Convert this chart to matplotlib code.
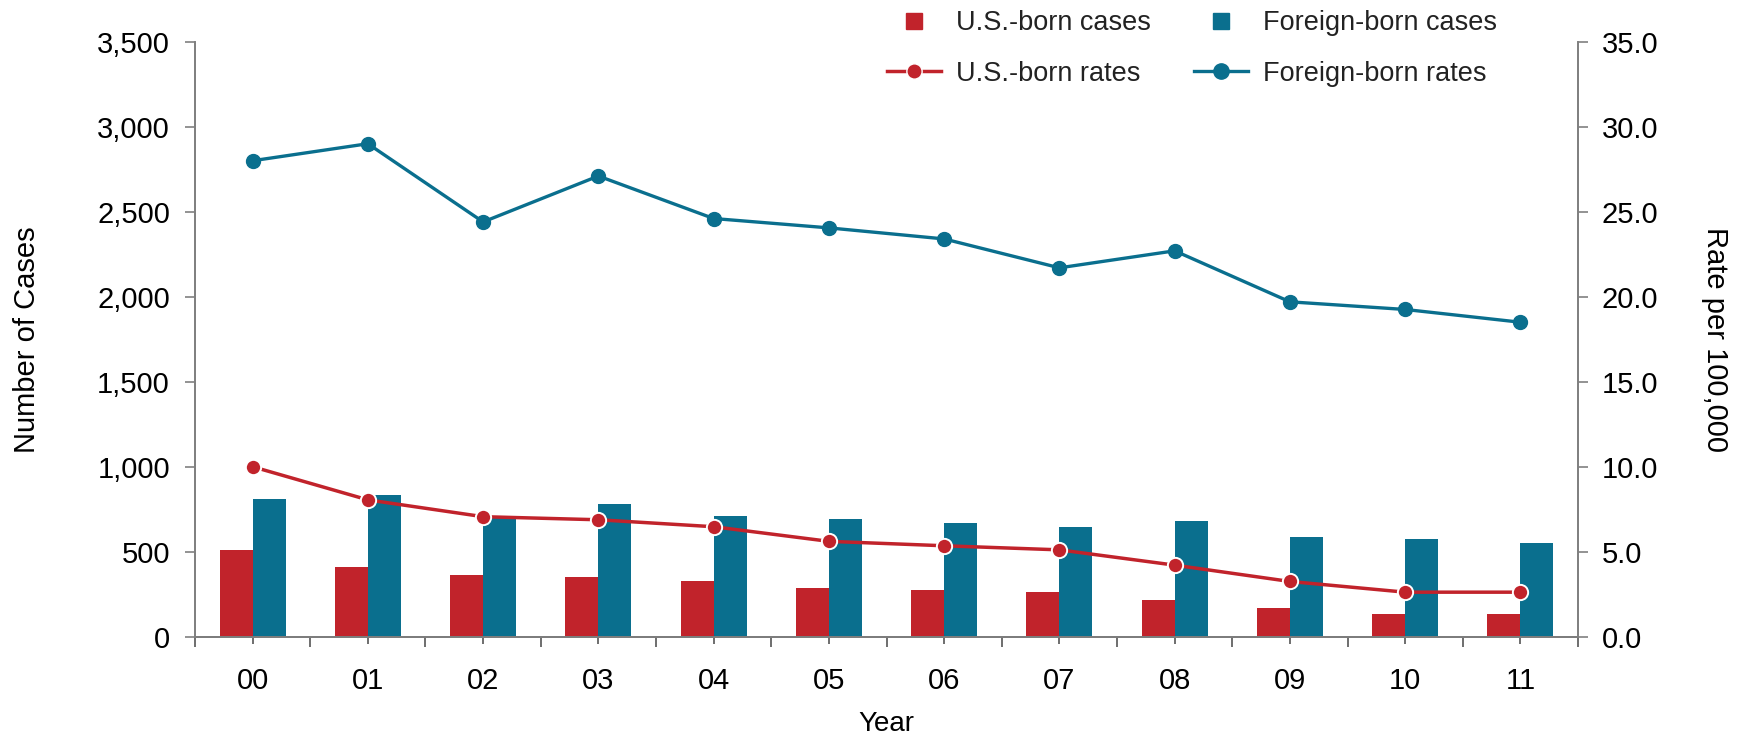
import matplotlib.pyplot as plt
from matplotlib.lines import Line2D
from matplotlib.ticker import FuncFormatter, FixedLocator
import numpy as np

# values
years = ['00', '01', '02', '03', '04', '05', '06', '07', '08', '09', '10', '11']
us_cases = [508, 410, 362, 350, 330, 287, 273, 263, 214, 167, 132, 132]
fb_cases = [809, 834, 700, 779, 710, 691, 671, 647, 679, 586, 574, 551]
us_rates = [10.0, 8.05, 7.06, 6.88, 6.47, 5.61, 5.35, 5.11, 4.21, 3.25, 2.62, 2.62]
fb_rates = [28.0, 29.0, 24.4, 27.1, 24.6, 24.05, 23.4, 21.7, 22.7, 19.7, 19.25, 18.5]

red = '#c1232b'
blue = '#0a6f8e'
grey = '#808080'

plt.rcParams['font.family'] = ['Liberation Sans', 'DejaVu Sans']
plt.rcParams['text.color'] = '#222222'

fig = plt.figure(figsize=(17.47, 7.36), dpi=100)
ax = fig.add_axes([0.1116, 0.1349, 0.7917, 0.8084])
ax2 = ax.twinx()

x = np.arange(len(years))
w = 0.286
ax.bar(x - w / 2, us_cases, width=w, color=red, label='U.S.-born cases')
ax.bar(x + w / 2, fb_cases, width=w, color=blue, label='Foreign-born cases')

ax2.plot(x, us_rates, color=red, lw=2.5, marker='o', ms=11, mec='white', mew=1.4)
ax2.plot(x, fb_rates, color=blue, lw=2.4, marker='o', ms=10, mec=blue)

ax.set_xlim(-0.5, 11.5)
ax.set_ylim(0, 3500)
ax2.set_ylim(0, 35)
ax.set_yticks(np.arange(0, 3501, 500))
ax2.set_yticks(np.arange(0, 35.1, 5))
ax.yaxis.set_major_formatter(FuncFormatter(lambda v, p: f'{int(v):,}'))
ax2.yaxis.set_major_formatter(FuncFormatter(lambda v, p: f'{v:.1f}'))

ax.set_xticks(x)
ax.set_xticklabels(years)
ax.xaxis.set_minor_locator(FixedLocator(np.arange(-0.5, 11.6, 1)))

for a in (ax, ax2):
    a.spines['top'].set_visible(False)
    for s in ('left', 'right', 'bottom'):
        a.spines[s].set_color(grey)
        a.spines[s].set_linewidth(1.3)
ax.spines['bottom'].set_color('#555555')

ax.tick_params(axis='y', length=7, width=1.2, color=grey, labelsize=21, pad=11)
ax2.tick_params(axis='y', length=7, width=1.2, color=grey, labelsize=21, pad=10)
ax.tick_params(axis='x', which='major', length=5, width=1.2, color='#555555', labelsize=21, pad=17)
ax.tick_params(axis='x', which='minor', length=7, width=1.2, color='#555555')

ax.set_xlabel('Year', fontsize=20, labelpad=11)
ax.set_ylabel('Number of Cases', fontsize=21)
ax.yaxis.set_label_coords(-0.111, 0.5)
ax2.set_ylabel('Rate per 100,000', fontsize=21, rotation=270, va='bottom')
ax2.yaxis.set_label_coords(1.089, 0.5)

handles = [
    Line2D([], [], color=red, marker='s', ls='none', ms=12),
    Line2D([], [], color=red, marker='o', lw=2.5, ms=11, mec='white', mew=1.0),
    Line2D([], [], color=blue, marker='s', ls='none', ms=12),
    Line2D([], [], color=blue, marker='o', lw=2.4, ms=11),
]
labels = ['U.S.-born cases', 'U.S.-born rates', 'Foreign-born cases', 'Foreign-born rates']
fig.legend(handles, labels, ncol=2, loc='upper left', bbox_to_anchor=(0.5077, 0.986),
           frameon=False, fontsize=19.5, handlelength=2.0, handletextpad=0.55,
           columnspacing=1.6, labelspacing=0.9, borderpad=0, borderaxespad=0,
           numpoints=1)

plt.savefig('out.png', dpi=100)
